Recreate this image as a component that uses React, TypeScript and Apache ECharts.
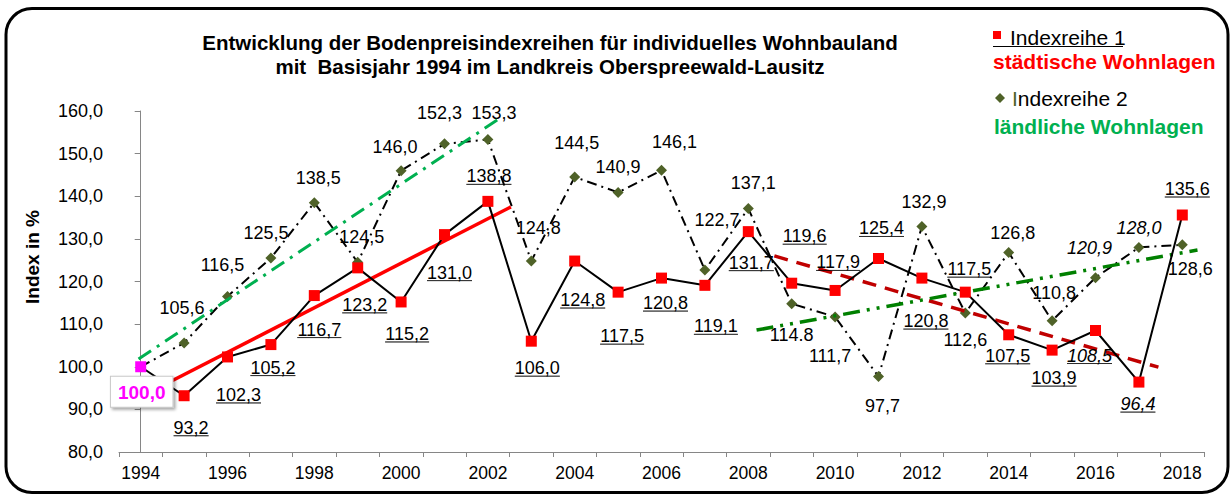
import React, { useEffect, useRef } from "react";
import * as echarts from "echarts";

const years = [
  "1994", "1995", "1996", "1997", "1998", "1999", "2000", "2001", "2002",
  "2003", "2004", "2005", "2006", "2007", "2008", "2009", "2010", "2011",
  "2012", "2013", "2014", "2015", "2016", "2017", "2018",
];
// Indexreihe 1 – städtische Wohnlagen
const urbanIndex = [
  100.0, 93.2, 102.3, 105.2, 116.7, 123.2, 115.2, 131.0, 138.8, 106.0, 124.8,
  117.5, 120.8, 119.1, 131.7, 119.6, 117.9, 125.4, 120.8, 117.5, 107.5, 103.9,
  108.5, 96.4, 135.6,
];
// Indexreihe 2 – ländliche Wohnlagen
const ruralIndex = [
  100.0, 105.6, 116.5, 125.5, 138.5, 124.5, 146.0, 152.3, 153.3, 124.8, 144.5,
  140.9, 146.1, 122.7, 137.1, 114.8, 111.7, 97.7, 132.9, 112.6, 126.8, 110.8,
  120.9, 128.0, 128.6,
];
// trend lines (x in category index units)
const urbanTrendEarly = [[0.7, 96.6], [8.53, 137.5]];
const ruralTrendEarly = [[-0.05, 101.8], [8.32, 158.6]];
const urbanTrendLate = [[14.6, 126.0], [23.45, 99.9]];
const ruralTrendLate = [[14.19, 108.6], [24.35, 127.4]];

const yMin = 80;
const yMax = 160;
const yStep = 10;

const italicIdx = [22, 23];
const dotDecimalRural = [15];

// label offsets (layout only)
const urbanLabelOffsets = [
  [1, 25], [7, 31], [11, 37], [2, 22], [5, 33], [7, 36], [6, 31], [5, 37],
  [1, -26], [6, 26], [8, 38], [4, 43], [4, 24], [11, 40], [3, 30], [13, -48],
  [3, -29], [3, -31], [4, 42], [4, -24], [-1, 20], [2, 27], [-6, 24], [-1, 21],
  [5, -27],
];
const ruralLabelOffsets = [
  [0, 0], [-2, -35], [-5, -31], [-5, -25], [4, -25], [4, -25], [-6, -24],
  [-5, -31], [6, -27], [7, -33], [2, -34], [0, -25], [13, -28], [12, -50],
  [5, -26], [0, 31], [-5, 39], [4, 29], [2, -25], [0, 27], [4, -20], [2, -28],
  [-6, -30], [0, -19], [8, 24],
];

const FONT = "'Liberation Sans', Arial, Helvetica, sans-serif";
const LABEL_SIZE = 18;
const fmt = (v: number) => v.toFixed(1).replace(".", ",");

let measureCtx: CanvasRenderingContext2D | null = null;
function measure(text: string, font: string): number {
  if (!measureCtx) measureCtx = document.createElement("canvas").getContext("2d");
  if (!measureCtx) return text.length * 9;
  measureCtx.font = font;
  return measureCtx.measureText(text).width;
}

export default function App() {
  const ref = useRef<HTMLDivElement>(null);
  useEffect(() => {
    if (!ref.current) return;
    const chart = echarts.init(ref.current, undefined, { renderer: "svg" });

    const urbanData = urbanIndex.map((v, i) => {
      const off = urbanLabelOffsets[i];
      if (i === 0) {
        return {
          value: v,
          itemStyle: { color: "#ff00ff" },
          label: {
            offset: off,
            formatter: "{b|" + fmt(v) + "}",
            rich: {
              b: {
                color: "#ff00ff",
                fontWeight: "bold",
                fontSize: 19,
                fontFamily: FONT,
                backgroundColor: "#ffffff",
                borderColor: "#c8c8c8",
                borderWidth: 1,
                padding: [6, 7, 5, 7],
                shadowColor: "rgba(0,0,0,0.35)",
                shadowBlur: 3,
                shadowOffsetX: 2,
                shadowOffsetY: 2,
              },
            },
          },
        };
      }
      const italic = italicIdx.includes(i);
      const txt = fmt(v);
      const w = Math.round(measure(txt, `${italic ? "italic " : ""}${LABEL_SIZE}px 'Liberation Sans'`));
      return {
        value: v,
        label: {
          offset: [off[0], off[1] + 1],
          formatter: "{t|" + txt + "}\n{u|}",
          rich: {
            t: {
              fontSize: LABEL_SIZE,
              lineHeight: 16,
              fontFamily: FONT,
              color: "#000",
              fontStyle: italic ? "italic" : "normal",
              align: "center",
            },
            u: { width: w, height: 0, borderColor: "#000", borderWidth: 0.6, align: "center" },
          },
        },
      };
    });

    const ruralData = ruralIndex.map((v, i) => {
      const off = ruralLabelOffsets[i];
      if (i === 0) {
        return { value: v, symbolSize: 0, label: { show: false } };
      }
      const italic = italicIdx.includes(i);
      const txt = dotDecimalRural.includes(i) ? v.toFixed(1) : fmt(v);
      return {
        value: v,
        label: {
          offset: off,
          formatter: txt,
          fontStyle: italic ? "italic" : "normal",
        },
      };
    });

    const trend = (data: number[][], color: string, width: number, type: any) => ({
      type: "line",
      xAxisIndex: 1,
      data,
      symbol: "none",
      silent: true,
      lineStyle: { color, width, type, cap: "butt" },
      z: 3,
    });

    const option: any = {
      animation: false,
      textStyle: { fontFamily: FONT },
      grid: { left: 119, right: 27, top: 111, bottom: 43, containLabel: false },
      xAxis: [
        {
          type: "category",
          data: years,
          boundaryGap: true,
          axisLine: { show: true, lineStyle: { color: "#868686", width: 1 } },
          axisTick: { show: true, interval: 0, alignWithLabel: false, length: 5, lineStyle: { color: "#868686" } },
          axisLabel: { interval: 1, fontSize: 17.5, color: "#000", margin: 12, fontFamily: FONT },
          splitLine: { show: false },
        },
        { type: "value", min: -0.5, max: 24.5, show: false },
      ],
      yAxis: {
        type: "value",
        min: yMin,
        max: yMax,
        interval: yStep,
        axisLine: { show: true, lineStyle: { color: "#868686", width: 1 } },
        axisTick: { show: true, inside: false, length: 6, lineStyle: { color: "#868686" } },
        axisLabel: { fontSize: 18, color: "#000", margin: 16, formatter: (v: number) => fmt(v), fontFamily: FONT },
        splitLine: { show: false },
      },
      series: [
        {
          type: "line",
          name: "Indexreihe 2",
          data: ruralData,
          symbol: "diamond",
          symbolSize: 11,
          itemStyle: { color: "#4f6228" },
          lineStyle: { color: "#000", width: 2, type: [10, 5, 2, 5] },
          label: {
            show: true,
            position: "inside",
            fontSize: LABEL_SIZE,
            color: "#000",
            fontFamily: FONT,
          },
          z: 2,
        },
        {
          type: "line",
          name: "Indexreihe 1",
          data: urbanData,
          symbol: "rect",
          symbolSize: 11,
          itemStyle: { color: "#ff0000" },
          lineStyle: { color: "#000", width: 2 },
          label: { show: true, position: "inside", fontSize: LABEL_SIZE, color: "#000" },
          z: 4,
        },
        trend(urbanTrendEarly, "#ff0000", 3.5, "solid"),
        trend(ruralTrendEarly, "#00b050", 3, [15, 7, 3, 7]),
        trend(urbanTrendLate, "#c00000", 3.5, [14, 9]),
        trend(ruralTrendLate, "#008000", 3.5, [17, 7, 3, 7, 3, 7]),
      ],
      graphic: [
        {
          type: "rect",
          shape: { x: 6, y: 8.5, width: 1222, height: 484, r: 26 },
          style: { fill: "none", stroke: "#000", lineWidth: 3 },
          silent: true,
        },
        {
          type: "text",
          x: 550,
          y: 42,
          style: {
            text: "Entwicklung der Bodenpreisindexreihen für individuelles Wohnbauland",
            font: `bold 20.5px ${FONT}`,
            fill: "#000",
            textAlign: "center",
            textVerticalAlign: "middle",
          },
        },
        {
          type: "text",
          x: 550,
          y: 66,
          style: {
            text: "mit  Basisjahr 1994 im Landkreis Oberspreewald-Lausitz",
            font: `bold 20.5px ${FONT}`,
            fill: "#000",
            textAlign: "center",
            textVerticalAlign: "middle",
          },
        },
        {
          type: "text",
          x: 32,
          y: 257,
          rotation: Math.PI / 2,
          style: {
            text: "Index in %",
            font: `bold 19px ${FONT}`,
            fill: "#000",
            textAlign: "center",
            textVerticalAlign: "middle",
          },
        },
        // legend
        {
          type: "rect",
          shape: { x: 993, y: 31, width: 8, height: 8 },
          style: { fill: "#ff0000" },
        },
        {
          type: "text",
          x: 1010,
          y: 37,
          style: {
            text: "Indexreihe 1",
            font: `21px ${FONT}`,
            fill: "#000",
            textAlign: "left",
            textVerticalAlign: "middle",
          },
        },
        {
          type: "line",
          shape: { x1: 993, y1: 46.5, x2: 1123, y2: 46.5 },
          style: { stroke: "#000", lineWidth: 1 },
        },
        {
          type: "text",
          x: 993,
          y: 61,
          style: {
            text: "städtische Wohnlagen",
            font: `bold 21px ${FONT}`,
            fill: "#ff0000",
            textAlign: "left",
            textVerticalAlign: "middle",
          },
        },
        {
          type: "polygon",
          shape: { points: [[1000, 93], [1005, 98], [1000, 103], [995, 98]] },
          style: { fill: "#4f6228" },
        },
        {
          type: "text",
          x: 1012,
          y: 98,
          style: {
            text: "{g|I}{k|ndexreihe 2}",
            rich: {
              g: { fill: "#4f6228", font: `21px ${FONT}` },
              k: { fill: "#000", font: `21px ${FONT}` },
            },
            textAlign: "left",
            textVerticalAlign: "middle",
          },
        },
        {
          type: "text",
          x: 994,
          y: 126,
          style: {
            text: "ländliche Wohnlagen",
            font: `bold 21px ${FONT}`,
            fill: "#00b050",
            textAlign: "left",
            textVerticalAlign: "middle",
          },
        },
      ],
    };
    chart.setOption(option);
    return () => chart.dispose();
  }, []);
  return (
    <div
      ref={ref}
      style={{ position: "fixed", left: 0, top: 0, width: 1231, height: 495, background: "#fff" }}
    />
  );
}
